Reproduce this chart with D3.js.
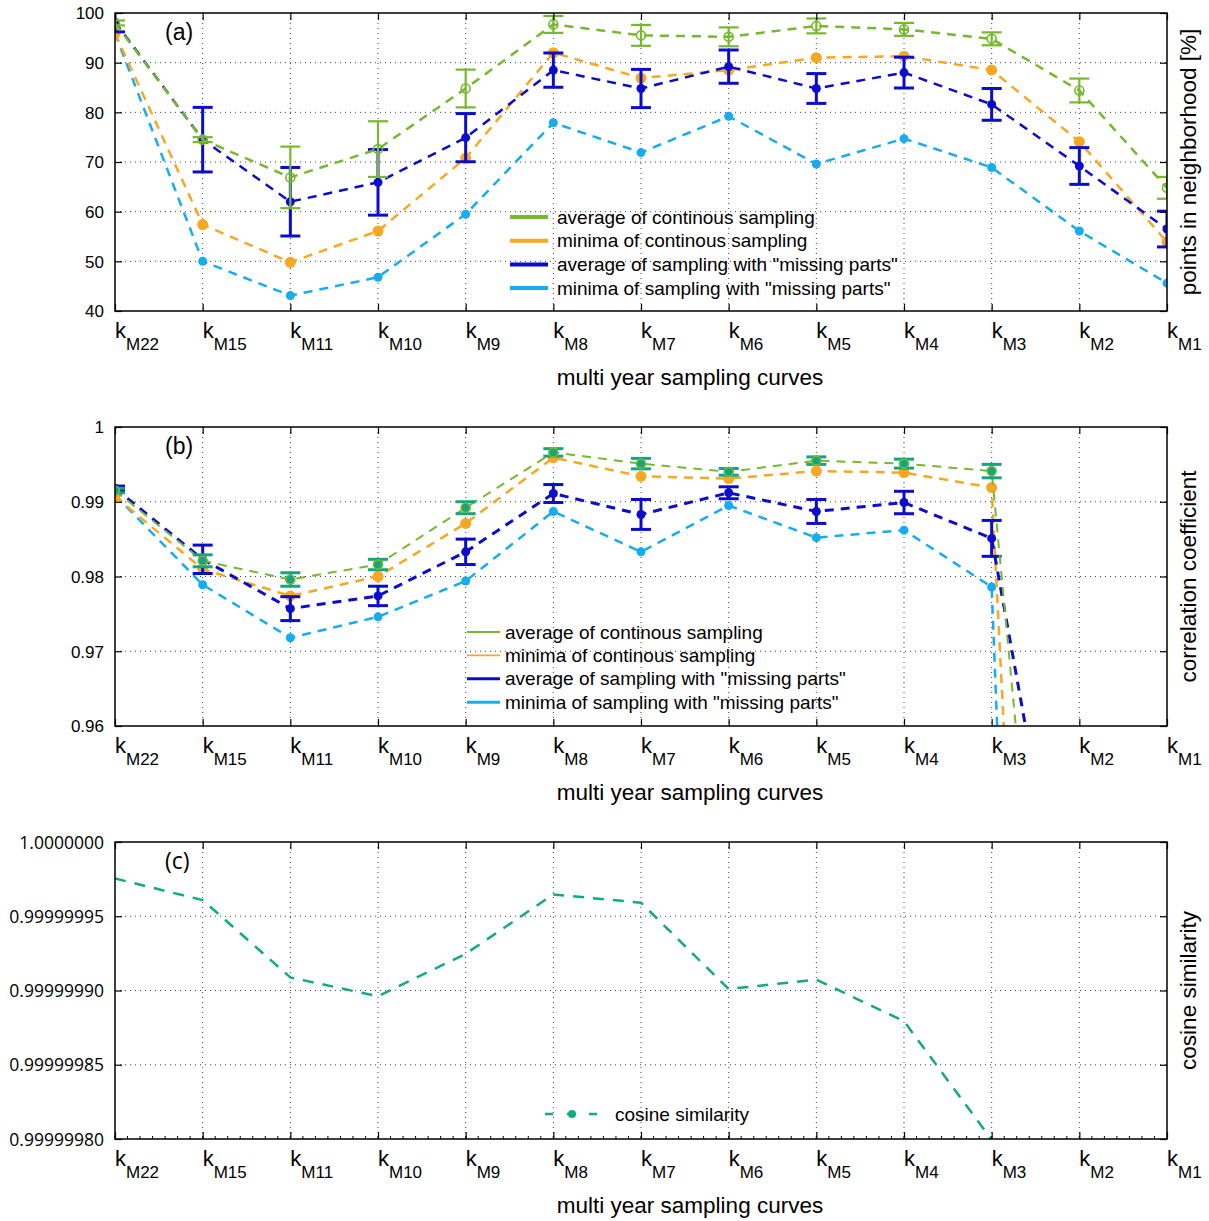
<!DOCTYPE html>
<html>
<head>
<meta charset="utf-8">
<script src="https://cdn.jsdelivr.net/npm/d3@7"></script>
<style>
  body { margin: 0; background: #fff; }
  text { font-family: "Liberation Sans", Arial, sans-serif; fill: #000; }
</style>
</head>
<body>
<svg id="chart" width="1209" height="1221"></svg>
<script>
// categories (multi year sampling curves)
const cats = ["M22","M15","M11","M10","M9","M8","M7","M6","M5","M4","M3","M2","M1"];

// panel (a): points in neighborhood [%]
const aAvgCont    = [98.0, 74.5, 66.9, 72.6, 84.8, 97.7, 95.5, 95.2, 97.4, 96.7, 94.8, 84.4, 64.8];
const aAvgContErr = [0.5, 0.5, 6.2, 5.6, 3.8, 1.7, 2.1, 1.9, 1.5, 1.3, 1.3, 2.4, 2.2];
const aMinCont    = [95.9, 57.4, 49.8, 56.1, 70.8, 92.0, 86.9, 88.5, 91.0, 91.3, 88.5, 74.1, 53.9];
const aAvgMiss    = [98.2, 74.5, 62.0, 65.9, 74.9, 88.5, 84.8, 89.2, 84.8, 88.0, 81.6, 69.2, 56.5];
const aAvgMissErr = [2.0, 6.5, 6.9, 6.6, 4.85, 3.45, 3.85, 3.35, 3.0, 3.1, 3.2, 3.7, 3.6];
const aMinMiss    = [95.9, 50.0, 43.1, 46.8, 59.5, 77.9, 71.9, 79.2, 69.6, 74.7, 68.9, 56.1, 45.6];
const aTicks = [40, 50, 60, 70, 80, 90, 100];

// panel (b): correlation coefficient
const bAvgCont    = [0.9915, 0.9821, 0.9796, 0.9816, 0.9892, 0.9966, 0.9951, 0.9940, 0.9955, 0.9951, 0.9941, 0.87, 0.85];
const bAvgContErr = [0.0003, 0.0008, 0.0009, 0.0007, 0.0008, 0.0005, 0.0007, 0.00045, 0.0005, 0.0006, 0.0009, 0.001, 0.001];
const bMinCont    = [0.9907, 0.9810, 0.9774, 0.9800, 0.9871, 0.9959, 0.9934, 0.9931, 0.9941, 0.9939, 0.9919, 0.76, 0.74];
const bAvgMiss    = [0.9918, 0.9823, 0.9757, 0.9774, 0.9833, 0.9911, 0.9883, 0.9912, 0.9887, 0.9899, 0.9851, 0.92, 0.90];
const bAvgMissErr = [0.0003, 0.0019, 0.0016, 0.0013, 0.0017, 0.0012, 0.0020, 0.0008, 0.0016, 0.0015, 0.0024, 0.003, 0.003];
const bMinMiss    = [0.9909, 0.9789, 0.9718, 0.9746, 0.9794, 0.9887, 0.9833, 0.9895, 0.9852, 0.9862, 0.9786, 0.68, 0.66];
const bTicks = [0.96, 0.97, 0.98, 0.99, 1];
const bTickLabels = ["0.96", "0.97", "0.98", "0.99", "1"];

// panel (c): cosine similarity
const cCos = [0.9999999754, 0.9999999609, 0.9999999088, 0.9999998961, 0.9999999247, 0.9999999647,
              0.9999999591, 0.9999999010, 0.9999999073, 0.9999998793, 0.9999997995, 0.9999997, 0.9999996];
const cTicks = [0.9999998, 0.99999985, 0.9999999, 0.99999995, 1];
const cTickLabels = ["0.99999980", "0.99999985", "0.99999990", "0.99999995", "1.0000000"];

const legendA = ["average of continous sampling", "minima of continous sampling",
                 'average of sampling with "missing parts"', 'minima of sampling with "missing parts"'];

const GREEN = "#78b82e", ORANGE = "#f6a823", BLUE = "#0c0ccc", LIGHT = "#16adf0", TEAL = "#14a385", COS = "#14aa80";

const left = 115, right = 1167;
const svg = d3.select("#chart");
const x = d3.scalePoint().domain(cats).range([left, right]);

function panel(p) {
  let y = d3.scaleLinear().domain(p.domain).range([p.bottom, p.top]);
  let g = svg.append("g");

  // dotted grid
  g.append("g").selectAll("line").data(cats.slice(1, -1)).join("line")
    .attr("x1", d => x(d)).attr("x2", d => x(d))
    .attr("y1", p.top).attr("y2", p.bottom)
    .attr("stroke", "#444").attr("stroke-width", 1).attr("stroke-dasharray", "1,4");
  g.append("g").selectAll("line").data(p.ticks.slice(1, -1)).join("line")
    .attr("x1", left).attr("x2", right)
    .attr("y1", d => y(d)).attr("y2", d => y(d))
    .attr("stroke", "#444").attr("stroke-width", 1).attr("stroke-dasharray", "1,4");

  g.append("clipPath").attr("id", "clip" + p.id)
    .append("rect").attr("x", left).attr("y", p.top)
    .attr("width", right - left).attr("height", p.bottom - p.top);
  let plot = g.append("g").attr("clip-path", `url(#clip${p.id})`);

  p.series.forEach(s => {
    let line = d3.line().x((d, i) => x(cats[i])).y(d => y(d));
    plot.append("path").datum(s.values)
      .attr("fill", "none").attr("stroke", s.color)
      .attr("stroke-width", s.width).attr("stroke-dasharray", s.dash || "9,7")
      .attr("d", line);
    if (s.err) {
      let eb = plot.append("g").attr("stroke", s.errColor || s.color).attr("stroke-width", s.errWidth || 2.5);
      s.values.forEach((v, i) => {
        let cx = x(cats[i]), y1 = y(v + s.err[i]), y2 = y(v - s.err[i]);
        eb.append("line").attr("x1", cx).attr("x2", cx).attr("y1", y1).attr("y2", y2);
        eb.append("line").attr("x1", cx - 10).attr("x2", cx + 10).attr("y1", y1).attr("y2", y1);
        eb.append("line").attr("x1", cx - 10).attr("x2", cx + 10).attr("y1", y2).attr("y2", y2);
      });
    }
    if (s.r) {
      plot.append("g").selectAll("circle").data(s.values).join("circle")
        .attr("cx", (d, i) => x(cats[i])).attr("cy", d => y(d)).attr("r", s.r)
        .attr("fill", s.fill).attr("stroke", s.stroke || "none").attr("stroke-width", 1.6);
    }
  });

  // frame and inward ticks on all sides
  g.append("rect").attr("x", left).attr("y", p.top)
    .attr("width", right - left).attr("height", p.bottom - p.top)
    .attr("fill", "none").attr("stroke", "#000").attr("stroke-width", 1.5);

  let yl = g.append("g").attr("transform", `translate(${left},0)`)
    .call(d3.axisLeft(y).tickValues(p.ticks).tickSize(-7).tickPadding(11)
      .tickFormat((d, i) => p.tickLabels[i]));
  yl.select(".domain").remove();
  yl.selectAll("text").style("font-size", p.tickFont || "17px")
    .style("font-family", p.tickFamily || null).attr("dy", "0.35em");
  let yr = g.append("g").attr("transform", `translate(${right},0)`)
    .call(d3.axisRight(y).tickValues(p.ticks).tickSize(-7).tickFormat(""));
  yr.select(".domain").remove();
  let xb = g.append("g").attr("transform", `translate(0,${p.bottom})`)
    .call(d3.axisBottom(x).tickSize(-7).tickFormat(""));
  xb.select(".domain").remove();
  let xt = g.append("g").attr("transform", `translate(0,${p.top})`)
    .call(d3.axisTop(x).tickSize(-7).tickFormat(""));
  xt.select(".domain").remove();
  g.selectAll(".tick line").attr("stroke", "#000").attr("stroke-width", 1.2);

  if (p.minor) {
    let step = x.step() / 7;
    let mins = d3.range(0, (cats.length - 1) * 7 + 1).map(k => left + k * step);
    g.append("g").selectAll("line").data(mins).join("line")
      .attr("x1", d => d).attr("x2", d => d)
      .attr("y1", p.bottom).attr("y2", p.bottom - 3)
      .attr("stroke", "#000").attr("stroke-width", 1);
  }

  // category labels k with subscript
  let lab = g.append("g").selectAll("text").data(cats).join("text")
    .attr("x", d => x(d)).attr("y", p.bottom + 27).style("font-size", "22px");
  lab.append("tspan").text("k");
  lab.append("tspan").attr("dy", 12).style("font-size", "17px").text(d => d);

  g.append("text").attr("x", 690).attr("y", p.bottom + 74)
    .attr("text-anchor", "middle").style("font-size", "22.5px")
    .text("multi year sampling curves");
  g.append("text").attr("transform", `translate(1196,${(p.top + p.bottom) / 2}) rotate(-90)`)
    .attr("text-anchor", "middle").style("font-size", "22.5px").text(p.ylabel);
  g.append("text").attr("x", 165).attr("y", p.top + 27)
    .style("font-size", "23px").style("font-family", p.tickFamily || null).text(p.label);

  return g;
}

// (a)
let ga = panel({
  id: "a", top: 13, bottom: 311, domain: [40, 100], ticks: aTicks,
  tickLabels: aTicks.map(String), label: "(a)", ylabel: "points in neighborhood [%]",
  series: [
    { values: aMinMiss, color: LIGHT, width: 2.5, r: 4.5, fill: LIGHT },
    { values: aMinCont, color: ORANGE, width: 2.5, r: 5.5, fill: ORANGE },
    { values: aAvgMiss, color: BLUE, width: 2.5, r: 4.5, fill: BLUE, err: aAvgMissErr, errWidth: 3 },
    { values: aAvgCont, color: GREEN, width: 2.5, r: 4.5, fill: "none", stroke: GREEN, err: aAvgContErr, errWidth: 2.2 }
  ]
});
let la = ga.append("g");
[GREEN, ORANGE, BLUE, LIGHT].forEach((c, i) => {
  let yy = 217 + i * 23.7;
  la.append("line").attr("x1", 510).attr("x2", 548).attr("y1", yy).attr("y2", yy)
    .attr("stroke", c).attr("stroke-width", 4);
  la.append("text").attr("x", 557).attr("y", yy).attr("dy", "0.35em")
    .style("font-size", "19px").text(legendA[i]);
});

// (b)
let gb = panel({
  id: "b", top: 427, bottom: 726, domain: [0.96, 1], ticks: bTicks,
  tickLabels: bTickLabels, label: "(b)", ylabel: "correlation coefficient",
  series: [
    { values: bMinMiss, color: LIGHT, width: 2.5, r: 4.5, fill: LIGHT },
    { values: bMinCont, color: ORANGE, width: 2.5, r: 5.5, fill: ORANGE },
    { values: bAvgMiss, color: BLUE, width: 3, r: 4.5, fill: BLUE, err: bAvgMissErr, errWidth: 3 },
    { values: bAvgCont, color: GREEN, width: 2, r: 4.5, fill: TEAL, stroke: GREEN, err: bAvgContErr, errColor: TEAL, errWidth: 3 }
  ]
});
let lb = gb.append("g");
[[GREEN, 2.2], [ORANGE, 1.6], [BLUE, 3], [LIGHT, 3]].forEach((c, i) => {
  let yy = 632 + i * 23.4;
  lb.append("line").attr("x1", 467).attr("x2", 500).attr("y1", yy).attr("y2", yy)
    .attr("stroke", c[0]).attr("stroke-width", c[1]);
  lb.append("text").attr("x", 505).attr("y", yy).attr("dy", "0.35em")
    .style("font-size", "19px").text(legendA[i]);
});

// (c)
let gc = panel({
  id: "c", top: 842, bottom: 1139, domain: [0.9999998, 1], ticks: cTicks,
  tickLabels: cTickLabels, label: "(c)", ylabel: "cosine similarity",
  tickFont: "17.5px", tickFamily: "'Open Sans', sans-serif", minor: true,
  series: [ { values: cCos, color: COS, width: 2.5, dash: "11,9" } ]
});
let lc = gc.append("g");
lc.append("line").attr("x1", 545).attr("x2", 605).attr("y1", 1114).attr("y2", 1114)
  .attr("stroke", COS).attr("stroke-width", 2.5).attr("stroke-dasharray", "8,14");
lc.append("circle").attr("cx", 572).attr("cy", 1114).attr("r", 4).attr("fill", COS);
lc.append("text").attr("x", 615).attr("y", 1114).attr("dy", "0.35em")
  .style("font-size", "19px").text("cosine similarity");
</script>
</body>
</html>
